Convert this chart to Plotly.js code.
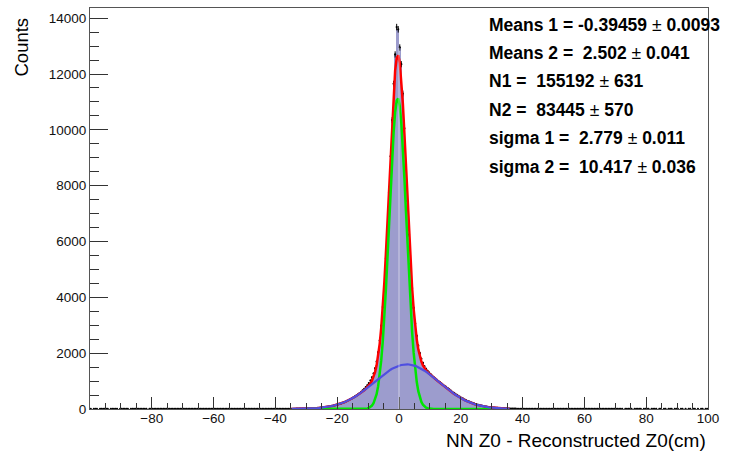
<!DOCTYPE html>
<html><head><meta charset="utf-8">
<script src="https://cdn.plot.ly/plotly-3.0.1.min.js"></script>
<style>html,body{margin:0;padding:0;background:#fff}#chart{width:738px;height:451px}</style>
</head><body><div id="chart"></div>
<script>
// Histogram binning: 400 bins of width 0.5 from -100 to 100
const binLow = -100, binWidth = 0.5;
const counts = [
1,0,2,1,1,0,1,2,1,1, 1,1,0,2,1,1,2,1,0,1, 2,1,1,1,2,0,1,2,1,1, 1,2,1,1,2,1,1,0,2,1,
2,1,2,1,1,2,1,2,1,2, 1,2,2,1,2,1,2,2,1,2, 2,2,1,2,3,2,1,2,2,3, 2,3,2,2,1,3,2,2,3,2,
3,2,2,3,2,3,3,2,3,2, 3,3,2,3,4,3,2,3,3,4, 3,4,3,3,4,4,3,4,4,3, 4,4,5,4,4,5,5,4,5,5,
5,6,5,6,6,6,7,6,7,7, 8,9,9,10,11,12,13,14,15,17, 19,21,23,26,29,32,36,40,45,51,
57,64,71,80,90,100,112,124,136,150, 166,183,201,222,243,268,293,320,350,380,
414,450,488,525,568,615,665,720,780,850, 925,1020,1130,1270,1460,1700,2030,2450,2980,3650,
4450,5400,6500,7750,9050,10350,11650,12700,13680,13600,
12950,12350,11300,10050,8750,7450,6250,5200,4330,3620,
3060,2620,2270,2000,1800,1650,1530,1440,1370,1305,
1245,1190,1135,1085,1045,1000,958,912,868,825,
790,745,702,660,618,578,540,503,468,433, 400,370,340,312,286,262,240,218,198,179,
161,145,131,118,106,95,85,76,68,61, 54,48,43,38,34,30,27,24,21,19,
17,15,14,12,11,10,9,8,8,7,
6,6,5,5,5,4,4,4,5,4, 4,3,4,3,3,4,3,3,2,3, 3,2,3,3,2,2,3,2,2,3, 2,2,2,1,2,3,2,2,1,2,
2,1,2,2,1,2,1,2,2,1, 1,2,1,1,2,1,2,1,1,2, 1,1,2,1,1,0,1,2,1,1, 1,0,1,1,2,1,1,0,1,1,
1,1,0,1,1,1,2,0,1,1, 0,1,1,0,1,1,1,0,1,1, 1,0,1,1,0,1,0,1,1,0, 1,1,0,1,0,1,1,0,1,1
];

// Fit curves sampled every 0.5 from -34.75 (total and wide) / from -29.75 (narrow)
const fitStart = -34.75, fitStep = 0.5;
const fitTotal = [
2.7,3.2,3.7,4.4,5.2,6.1,7.2,8.4,9.8,11.4, 13.3,15.4,17.8,20.5,23.6,27.1,31.0,35.5,40.4,46.0,
52.2,59.1,66.8,75.3,84.7,95.1,106.5,118.9,132.5,147.3, 163.4,180.8,199.6,219.9,241.7,265.1,290.0,316.5,344.6,374.4,
405.8,438.8,473.5,509.8,
547.8,587.6,629.5,674.1,722.4,776.2,838.8,915.3,1013.1,1143.2,
1320.2,1562.7,1892.5,2332.9,2907.1,3632.7,4516.3,5550.4,6708.8,7943.3,
9185.4,10354.2,11361.4,12122.7,12571.1,12668.3,12405.2,11809.6,10936.5,9864.9,
8681.5,7470.5,6307.9,5249.5,4331.6,3569.2,2959.3,2488.5,2136.5,1879.3,
1693.6,1559.3,1460.6,1384.4,1322.4,1268.5,1219.0,1171.4,1124.7,1078.0,1031.5,
984.7,938.2,891.8,845.8,800.3,755.5,711.6,668.7,626.9,586.4, 547.3,509.8,473.5,438.8,405.8,374.4,344.6,316.5,290.0,265.1,
241.7,219.9,199.6,180.8,163.4,147.3,132.5,118.9,106.5,95.1, 84.7,75.3,66.8,59.1,52.2,46.0,40.4,35.5,31.0,27.1,
23.6,20.5,17.8,15.4,13.3,11.4,9.8
];
const fitWide = [
2.7,3.2,3.7,4.4,5.2,6.1,7.2,8.4,9.8,11.4, 13.3,15.4,17.8,20.5,23.6,27.1,31.0,35.5,40.4,46.0,
52.2,59.1,66.8,75.3,84.7,95.1,106.5,118.9,132.5,147.3, 163.4,180.8,199.6,219.9,241.7,265.1,290.0,316.5,344.6,374.4,
405.8,438.8,473.5,509.8,547.3,586.4,626.9,668.7,711.6,755.5, 800.3,845.8,891.8,938.2,984.7,1031.2,1077.3,1123.0,1167.8,1211.7,
1254.3,1295.4,1334.8,1372.3,1407.4,1440.2,1470.4,1497.7,1522.1,1543.3, 1561.2,1575.6,1586.5,1593.9,1597.5,
1597.5,1593.9,1586.5,1575.6,1561.2,1543.3,1522.1,1497.7,1470.4,1440.2, 1407.4,1372.3,1334.8,1295.4,1254.3,1211.7,1167.8,1123.0,1077.3,1031.2,
984.7,938.2,891.8,845.8,800.3,755.5,711.6,668.7,626.9,586.4, 547.3,509.8,473.5,438.8,405.8,374.4,344.6,316.5,290.0,265.1,
241.7,219.9,199.6,180.8,163.4,147.3,132.5,118.9,106.5,95.1, 84.7,75.3,66.8,59.1,52.2,46.0,40.4,35.5,31.0,27.1,
23.6,20.5,17.8,15.4,13.3,11.4,9.8
];
const narrowStart = -29.75;
const fitNarrow = [
0,0,0,0,0,0,0,0,0,0, 0,0,0,0,0,0,0,0,0,0, 0,0,0,0,0,0,0,0,0,0, 0,0,0,0,
0.5,1.2,2.6,5.4,10.8,20.7,
38.5,69.5,121.3,205.0,335.5,531.5,815.2,1209.9,1739.3,2421,
3262,4255,5374,6571,7778,8914,9891,10625,11049,11125,
10844,10234,9350,8271,7084,5873,4714,3663,2756,2008,
1416,966.4,638.8,408.9,253.4,151.9,88.3,49.6,27.0,14.2,
7.3,3.6,1.7,0.7,0.3,
0,0,0,0,0,0,0,0,0,0, 0,0,0,0,0,0,0,0,0,0, 0,0,0,0,0,0,0,0,0,0, 0,0,0,0,0
];

const statLines = [
  ["Means 1 = -0.39459", "0.0093"],
  ["Means 2 = \u00a02.502", "0.041"],
  ["N1 = \u00a0155192", "631"],
  ["N2 = \u00a083445", "570"],
  ["sigma 1 = \u00a02.779", "0.011"],
  ["sigma 2 = \u00a010.417", "0.036"]
];
const xTickVals = [-80,-60,-40,-20,0,20,40,60,80,100];
const yTickVals = [0,2000,4000,6000,8000,10000,12000,14000];
const xTitle = "NN Z0 - Reconstructed Z0(cm)";
const yTitle = "Counts";

// ---------- build ----------
const centers = counts.map((_, i) => binLow + binWidth * (i + 0.5));
const fitX = fitTotal.map((_, i) => fitStart + fitStep * i);
const narrowX = fitNarrow.map((_, i) => narrowStart + fitStep * i);
const nz = counts.map((c, i) => c > 0 ? i : -1).filter(i => i >= 0);

const FONT = "Liberation Sans, Arial, Helvetica, sans-serif";
const fillCol = "#9c9ccd";

const traces = [
  {type: "bar", x: centers, y: counts, width: binWidth,
   marker: {color: fillCol, line: {width: 0}}, hoverinfo: "skip"},
  {type: "scatter", mode: "markers", x: nz.map(i => centers[i]), y: nz.map(i => counts[i]),
   marker: {color: "#000", size: 2.2},
   error_y: {type: "sqrt", color: "#000", thickness: 1, width: 0},
   hoverinfo: "skip"},
  {type: "scatter", mode: "lines", x: fitX, y: fitTotal, line: {color: "#ff0000", width: 2.5}},
  {type: "scatter", mode: "lines", x: narrowX, y: fitNarrow, line: {color: "#00e600", width: 2.5}},
  {type: "scatter", mode: "lines", x: fitX, y: fitWide, line: {color: "#4f4fe0", width: 2.2}}
];

const L = 90, R = 30, T = 8, B = 42, H = 451;
const plotH = H - T - B;
const py = p => (H - B - p) / plotH;   // pixel y -> paper y

const ymax = Math.max(...counts) * 1.05;
const iz = centers.findIndex(c => c > 0);
const seamTop = Math.min(counts[iz - 1], counts[iz]);

const annotations = statLines.map((s, i) => ({
  xref: "paper", yref: "paper", x: (487 - L) / (738 - L - R), y: py(24.5 + 28.4 * i),
  xanchor: "left", yanchor: "middle", showarrow: false,
  text: "<b>" + s[0] + "</b> \u00b1 <b>" + s[1] + "</b>",
  font: {family: FONT, size: 17.5, color: "#000"}
}));
annotations.push({
  xref: "paper", yref: "paper", x: 1, y: py(440), xanchor: "right", yanchor: "middle",
  showarrow: false, text: xTitle, font: {family: FONT, size: 19, color: "#000"}
});
annotations.push({
  xref: "paper", yref: "paper", x: (21 - L) / (738 - L - R), y: py(16), xanchor: "center", yanchor: "top",
  textangle: -90, showarrow: false, text: yTitle, font: {family: FONT, size: 18.5, color: "#000"}
});

const layout = {
  width: 738, height: 451,
  margin: {l: L, r: R, t: T, b: B, pad: 0},
  paper_bgcolor: "#fff", plot_bgcolor: "#fff",
  showlegend: false, bargap: 0,
  font: {family: FONT, color: "#000"},
  xaxis: {
    range: [binLow, binLow + binWidth * counts.length],
    tickmode: "array", tickvals: xTickVals, ticktext: xTickVals.map(v => v < 0 ? "\u2212" + (-v) : String(v)),
    ticks: "inside", ticklen: 12, tickcolor: "#333", tickwidth: 1,
    minor: {dtick: 5, tick0: 0, ticks: "inside", ticklen: 6, tickcolor: "#333", showgrid: false},
    showgrid: false, zeroline: false, showline: true, linecolor: "#555", linewidth: 1, mirror: true,
    tickfont: {family: FONT, size: 13.5, color: "#111"}, ticklabelstandoff: -3
  },
  yaxis: {
    range: [0, ymax],
    tickmode: "array", tickvals: yTickVals, ticktext: yTickVals.map(v => String(v)),
    ticks: "inside", ticklen: 18, tickcolor: "#333", tickwidth: 1,
    minor: {dtick: 500, tick0: 0, ticks: "inside", ticklen: 9, tickcolor: "#333", showgrid: false},
    showgrid: false, zeroline: false, showline: true, linecolor: "#555", linewidth: 1, mirror: true,
    tickfont: {family: FONT, size: 13.5, color: "#111"}
  },
  shapes: [{type: "line", xref: "x", yref: "y", x0: 0, x1: 0, y0: 0, y1: seamTop,
            line: {color: "rgba(255,255,255,0.5)", width: 1}, layer: "above"}],
  annotations: annotations
};

Plotly.newPlot("chart", traces, layout, {staticPlot: true, displayModeBar: false});
</script></body></html>
